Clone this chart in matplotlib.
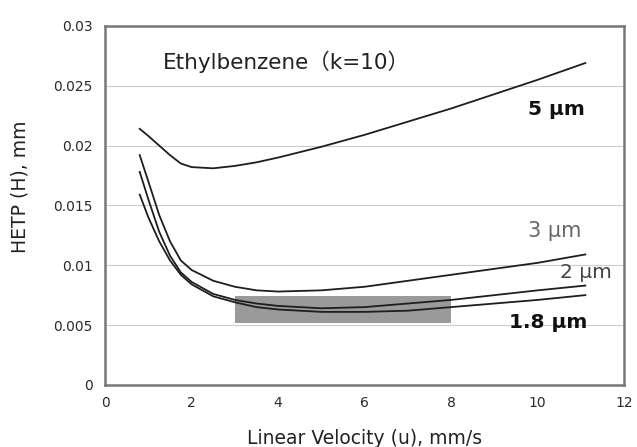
import matplotlib
matplotlib.use('Agg')
import matplotlib.pyplot as plt
from matplotlib.patches import Rectangle

# linear velocity, mm/s
u = [0.8, 1.0, 1.25, 1.5, 1.75, 2.0, 2.5, 3.0, 3.5, 4.0, 5.0, 6.0, 7.0, 8.0, 9.0, 10.0, 11.1]

# HETP, mm for each particle size
h5 = [0.0214, 0.0208, 0.0200, 0.0192, 0.0185, 0.0182, 0.0181, 0.0183, 0.0186, 0.0190,
      0.0199, 0.0209, 0.0220, 0.0231, 0.0243, 0.0255, 0.0269]
h3 = [0.0192, 0.0170, 0.0142, 0.0120, 0.0104, 0.0096, 0.0087, 0.0082, 0.0079, 0.0078,
      0.0079, 0.0082, 0.0087, 0.0092, 0.0097, 0.0102, 0.0109]
h2 = [0.0178, 0.0155, 0.0128, 0.0108, 0.0094, 0.0086, 0.0076, 0.0071, 0.0068, 0.0066,
      0.0064, 0.0065, 0.0068, 0.0071, 0.0075, 0.0079, 0.0083]
h18 = [0.0159, 0.0140, 0.0120, 0.0104, 0.0092, 0.0084, 0.0074, 0.0069, 0.0065, 0.0063,
       0.0061, 0.0061, 0.0062, 0.0065, 0.0068, 0.0071, 0.0075]

# shaded optimum region
box_u = [3.0, 8.0]
box_h = [0.0052, 0.0074]

xticks = [0, 2, 4, 6, 8, 10, 12]
yticks = [0, 0.005, 0.01, 0.015, 0.02, 0.025, 0.03]
yticklabels = ['0', '0.005', '0.01', '0.015', '0.02', '0.025', '0.03']

plt.rcParams['font.family'] = ['DejaVu Sans', 'Noto Sans CJK JP']

fig = plt.figure(figsize=(6.37, 4.47), dpi=100)
ax = fig.add_axes([0.165, 0.139, 0.815, 0.803])

ax.add_patch(Rectangle((box_u[0], box_h[0]), box_u[1] - box_u[0], box_h[1] - box_h[0],
                       facecolor='#9a9a9a', edgecolor='none', zorder=2))

for h in [h5, h3, h2, h18]:
    ax.plot(u, h, color='#1e1e1e', lw=1.3, zorder=3)

ax.set_xlim(0, 12)
ax.set_ylim(0, 0.03)
ax.set_xticks(xticks)
ax.set_yticks(yticks)
ax.set_yticklabels(yticklabels)
ax.tick_params(length=0, labelsize=10, colors='#2a2a2a')
ax.tick_params(axis='y', pad=9)
ax.tick_params(axis='x', pad=8)
ax.grid(axis='y', color='#cccccc', lw=0.8, zorder=0)
ax.set_axisbelow(True)
for s in ax.spines.values():
    s.set_color('#777777')
    s.set_linewidth(1.8)

ax.set_xlabel('Linear Velocity (u), mm/s', fontsize=13.5, color='#222222')
ax.set_ylabel('HETP (H), mm', fontsize=13.5, color='#222222')
ax.xaxis.set_label_coords(0.499, -0.122)
ax.yaxis.set_label_coords(-0.146, 0.551)

ax.text(1.34, 0.0264, 'Ethylbenzene（k=10）', fontsize=15.5, va='baseline', color='#222222')
ax.text(9.78, 0.02256, '5 µm', fontsize=14.5, fontweight='bold', va='baseline', color='#111111')
ax.text(9.78, 0.01239, '3 µm', fontsize=15, va='baseline', color='#666666')
ax.text(10.52, 0.00894, '2 µm', fontsize=14.5, va='baseline', color='#444444')
ax.text(9.34, 0.00476, '1.8 µm', fontsize=14.5, fontweight='bold', va='baseline', color='#111111')

fig.savefig('out.png', dpi=100)
